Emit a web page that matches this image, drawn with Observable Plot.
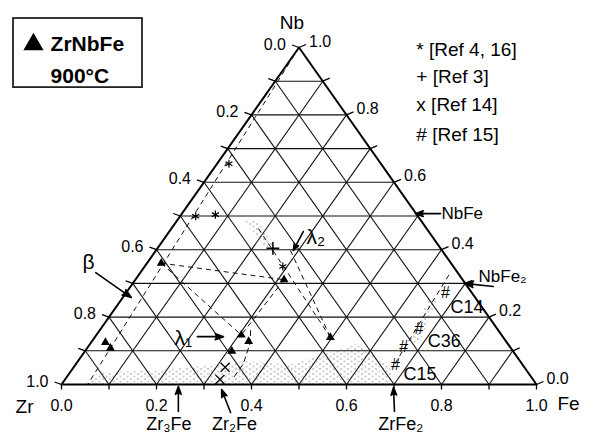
<!DOCTYPE html>
<html><head><meta charset="utf-8">
<script src="https://cdn.jsdelivr.net/npm/d3@7"></script>
<script src="https://cdn.jsdelivr.net/npm/@observablehq/plot@0.6"></script>
<style>body{margin:0;background:#fff}</style>
</head><body><div id="chart"></div>
<script>
// ---------------- data ----------------
// compositions are [Fe, Nb] (Zr = 1 - Fe - Nb)
const ticks = [0, 0.1, 0.2, 0.3, 0.4, 0.5, 0.6, 0.7, 0.8, 0.9, 1.0];
const gridSteps = [0.1, 0.2, 0.3, 0.4, 0.5, 0.6, 0.7, 0.8, 0.9];
const labelTicks = [0, 0.2, 0.4, 0.6, 0.8, 1.0];
const tickText = ["0.0", "0.2", "0.4", "0.6", "0.8", "1.0"];

const zrNbFe = [[0.030,0.125],[0.049,0.108],[0.030,0.360],[0.313,0.311],[0.305,0.147],[0.330,0.128],[0.309,0.099],[0.496,0.140]];
const ref4_16 = [[0.025,0.655],[0.033,0.499],[0.072,0.504],[0.291,0.350]];
const ref3 = [[0.243,0.404]];
const ref14 = [[0.319,0.051],[0.326,0.015]];
const ref15 = [[0.673,0.271],[0.670,0.165],[0.665,0.111],[0.674,0.058]];

const dashedLines = [
  [[0,1],[0.055,0]],
  [[0.030,0.360],[0.313,0.311]],
  [[0.030,0.360],[0.305,0.147]],
  [[0.313,0.311],[0.305,0.147]],
  [[0.183,0.463],[0.496,0.140]],
  [[0.283,0.398],[0.496,0.140]],
  [[0.653,0.325],[0.672,0.050]]
];
const dashedCurve = [[0.318,0.16],[0.335,0.125],[0.352,0.062],[0.352,0.021]];

const stippled = [
  [[0.045,0],[0.06,0.035],[0.2,0.045],[0.3,0.06],[0.35,0.07],[0.45,0.06],[0.53,0.1],[0.56,0.12],[0.6,0.1],[0.66,0.06],[0.70,0]],
  [[0.140,0.487],[0.167,0.487],[0.245,0.412],[0.226,0.407]],
  [[0.645,0.25],[0.665,0.25],[0.69,0.13],[0.67,0.12]]
];

const legendTexts = ["* [Ref 4, 16]", "+ [Ref 3]", "x [Ref 14]", "# [Ref 15]"];
const cornerNames = ["Zr", "Nb", "Fe"];

// ---------------- helpers ----------------
const proj = ([fe, nb]) => ({x: fe + nb / 2, y: nb});
const seg = ([a, b]) => { const p = proj(a), q = proj(b); return {x1: p.x, y1: p.y, x2: q.x, y2: q.y}; };
const PW = 1 / 475, PH = 1 / 337; // one pixel in data units

const gridSegs = gridSteps.flatMap(k => [
  seg([[0, k], [1 - k, k]]),
  seg([[k, 0], [k, 1 - k]]),
  seg([[1 - k, 0], [0, 1 - k]])
]);
const outline = [[0,0],[1,0],[0,1],[0,0]].map(proj);
const leftTicks = ticks.map(t => { const p = proj([0, 1 - t]); return {x1: p.x, y1: p.y, x2: p.x - 7 * PW, y2: p.y + 2.5 * PH}; });
const rightTicks = ticks.map(t => { const p = proj([1 - t, t]); return {x1: p.x, y1: p.y, x2: p.x + 7 * PW, y2: p.y + 3 * PH}; });
const bottomTicks = ticks.map(t => { const p = proj([t, 0]); return {x1: p.x, y1: p.y, x2: p.x, y2: p.y - 5 * PH}; });

const leftLab = labelTicks.map((z, i) => ({...proj([0, 1 - z]), t: tickText[i]}));
const rightLab = labelTicks.map((n, i) => ({...proj([1 - n, n]), t: tickText[i]}));
const bottomLab = labelTicks.map((f, i) => ({...proj([f, 0]), t: tickText[i]}));

const stipRows = stippled.flatMap((poly, g) => poly.map(c => ({...proj(c), g})));

// annotation arrows (projected space)
const arrows = [
  {x1:0.072,y1:0.332,x2:0.147,y2:0.258},   // beta
  {x1:0.286,y1:0.142,x2:0.341,y2:0.142},   // lambda1
  {x1:0.509,y1:0.454,x2:0.488,y2:0.398},   // lambda2
  {x1:0.798,y1:0.507,x2:0.745,y2:0.507},   // NbFe
  {x1:0.909,y1:0.291,x2:0.848,y2:0.300},   // NbFe2
  {x1:0.246,y1:-0.080,x2:0.246,y2:-0.006}, // Zr3Fe
  {x1:0.356,y1:-0.083,x2:0.337,y2:-0.015}, // Zr2Fe
  {x1:0.701,y1:-0.080,x2:0.699,y2:-0.009}  // ZrFe2
];

const font = "Liberation Sans, Arial, Helvetica, sans-serif";

const svg = Plot.plot({
  width: 593, height: 436,
  marginLeft: 61, marginRight: 57, marginTop: 47, marginBottom: 52,
  x: {domain: [0, 1], axis: null},
  y: {domain: [0, 1], axis: null},
  style: {fontFamily: font, background: "#fff", color: "#000", overflow: "visible"},
  marks: [
    Plot.line(stipRows, {x: "x", y: "y", z: "g", fill: "url(#stip)", stroke: "none"}),
    Plot.link(gridSegs, {x1: "x1", y1: "y1", x2: "x2", y2: "y2", stroke: "#111", strokeWidth: 1.1}),
    Plot.link(dashedLines.map(seg), {x1: "x1", y1: "y1", x2: "x2", y2: "y2", stroke: "#111", strokeWidth: 1, strokeDasharray: "5,4"}),
    Plot.line(dashedCurve.map(proj), {x: "x", y: "y", stroke: "#111", strokeWidth: 1, strokeDasharray: "5,4"}),
    Plot.line(outline, {x: "x", y: "y", stroke: "#000", strokeWidth: 2}),
    Plot.link([...leftTicks, ...rightTicks, ...bottomTicks], {x1: "x1", y1: "y1", x2: "x2", y2: "y2", stroke: "#000", strokeWidth: 1.3}),
    Plot.text(leftLab, {x: "x", y: "y", text: "t", textAnchor: "end", lineAnchor: "bottom", dx: -13, dy: 2, fontSize: 16}),
    Plot.text(rightLab, {x: "x", y: "y", text: "t", textAnchor: "start", lineAnchor: "bottom", dx: 10, dy: -1, fontSize: 16}),
    Plot.text(bottomLab, {x: "x", y: "y", text: "t", textAnchor: "middle", lineAnchor: "bottom", dy: 26, fontSize: 16}),
    // corner names
    Plot.text([{...proj([0,1]), t: cornerNames[1]}], {x: "x", y: "y", text: "t", textAnchor: "middle", lineAnchor: "bottom", dx: -7, dy: -19, fontSize: 19}),
    Plot.text([{...proj([0,0]), t: cornerNames[0]}], {x: "x", y: "y", text: "t", textAnchor: "end", lineAnchor: "bottom", dx: -28, dy: 28, fontSize: 19}),
    Plot.text([{...proj([1,0]), t: cornerNames[2]}], {x: "x", y: "y", text: "t", textAnchor: "start", lineAnchor: "bottom", dx: 21, dy: 25, fontSize: 19}),
    // data markers
    Plot.dot(zrNbFe.map(proj), {x: "x", y: "y", symbol: "triangle", r: 3.3, fill: "#000", stroke: "none"}),
    Plot.dot(ref4_16.map(proj), {x: "x", y: "y", symbol: "asterisk", r: 3.8, stroke: "#000", strokeWidth: 1.2}),
    Plot.dot(ref3.map(proj), {x: "x", y: "y", symbol: "plus", r: 4.2, stroke: "#000", strokeWidth: 1.5}),
    Plot.dot(ref14.map(proj), {x: "x", y: "y", symbol: "times", r: 4.2, stroke: "#000", strokeWidth: 1.3}),
    Plot.text(ref15.map(proj), {x: "x", y: "y", text: () => "#", fontSize: 16, fill: "#000"}),
    // arrows (filled heads)
    Plot.arrow(arrows, {x1: "x1", y1: "y1", x2: "x2", y2: "y2", stroke: "#000", fill: "#000", strokeWidth: 1.6, headLength: 9, headAngle: 40}),
    // annotations
    Plot.text([{x:0.057,y:0.344,t:"β"}], {x:"x", y:"y", text:"t", textAnchor:"middle", lineAnchor:"bottom", fontSize: 21}),
    Plot.text([{x:0.238,y:0.116,t:"λ₁"},{x:0.516,y:0.418,t:"λ₂"}], {x:"x", y:"y", text:"t", textAnchor:"start", lineAnchor:"bottom", fontSize: 21}),
    Plot.text([{x:0.800,y:0.490,t:"NbFe"},{x:0.878,y:0.303,t:"NbFe₂"}], {x:"x", y:"y", text:"t", textAnchor:"start", lineAnchor:"bottom", fontSize: 17}),
    Plot.text([{x:0.819,y:0.211,t:"C14"},{x:0.771,y:0.110,t:"C36"},{x:0.720,y:0.012,t:"C15"}], {x:"x", y:"y", text:"t", textAnchor:"start", lineAnchor:"bottom", fontSize: 18}),
    Plot.text([{x:0.226,y:-0.136,t:"Zr₃Fe"},{x:0.364,y:-0.136,t:"Zr₂Fe"},{x:0.714,y:-0.136,t:"ZrFe₂"}], {x:"x", y:"y", text:"t", textAnchor:"middle", lineAnchor:"bottom", fontSize: 18}),
    // legend right
    Plot.text(legendTexts.map((t, i) => ({t, x: 0.747, y: [0.976, 0.896, 0.813, 0.724][i]})), {x:"x", y:"y", text:"t", textAnchor:"start", lineAnchor:"bottom", fontSize: 19}),
    // box top-left
    Plot.rect([{x1:-0.101, x2:0.1705, y1:0.881, y2:1.086}], {x1:"x1", x2:"x2", y1:"y1", y2:"y2", fill:"none", stroke:"#222", strokeWidth: 1.8}),
    Plot.dot([{x:-0.059, y:1.009}], {x:"x", y:"y", symbol:"triangle", r: 7.5, fill:"#000", stroke:"none"}),
    Plot.text([{x:-0.023,y:0.991,t:"ZrNbFe"},{x:-0.023,y:0.896,t:"900°C"}], {x:"x", y:"y", text:"t", textAnchor:"start", lineAnchor:"bottom", fontSize: 21, fontWeight: "bold"})
  ]
});

const ns = "http://www.w3.org/2000/svg";
const defs = document.createElementNS(ns, "defs");
defs.innerHTML = '<pattern id="stip" width="7" height="5" patternUnits="userSpaceOnUse"><circle cx="1" cy="1" r="0.6" fill="#222"/><circle cx="4.5" cy="3.5" r="0.6" fill="#222"/></pattern>';
svg.insertBefore(defs, svg.firstChild);
document.getElementById("chart").appendChild(svg);
</script>
</body></html>
